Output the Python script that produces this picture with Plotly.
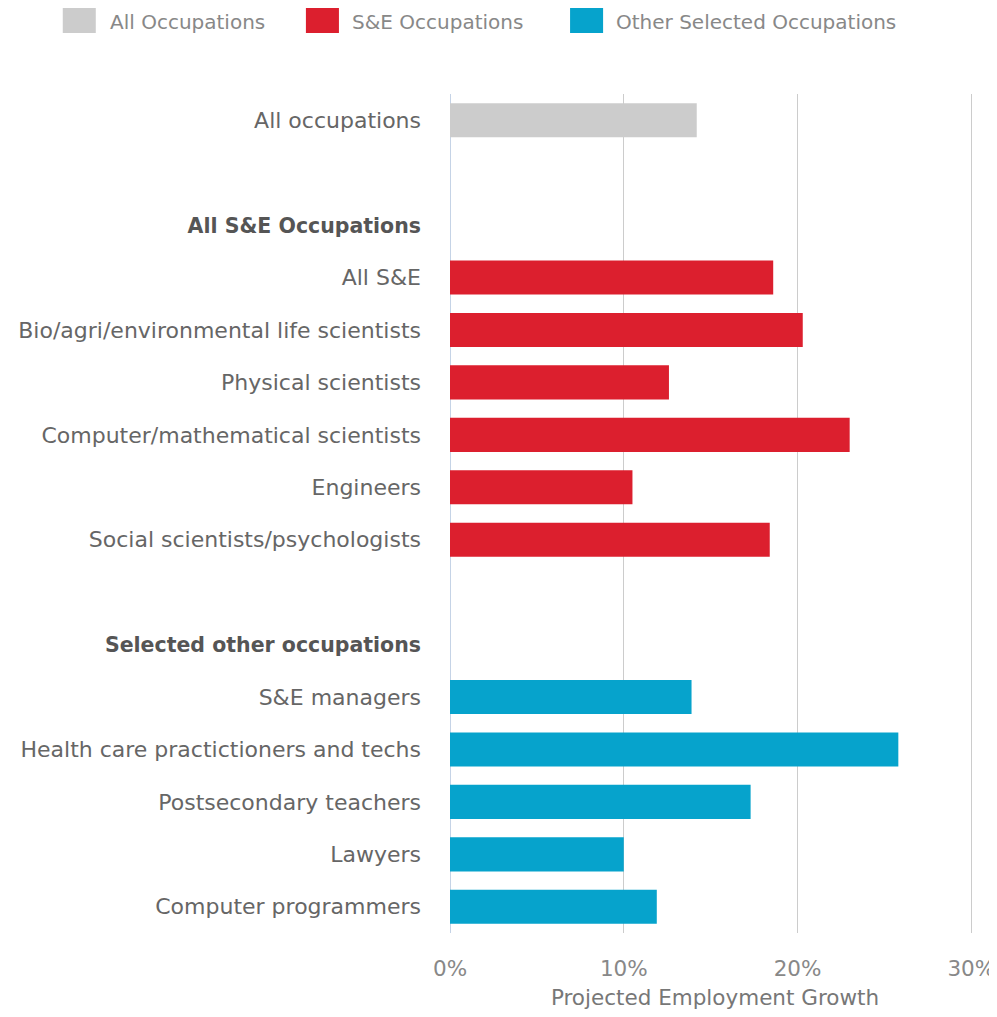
import plotly.graph_objects as go

# Rows top to bottom (blank strings are spacer rows, bold strings are group headers)
rows = [
    "All occupations",
    " ",
    "All S&E Occupations",
    "All S&E",
    "Bio/agri/environmental life scientists",
    "Physical scientists",
    "Computer/mathematical scientists",
    "Engineers",
    "Social scientists/psychologists",
    "  ",
    "Selected other occupations",
    "S&E managers",
    "Health care practictioners and techs",
    "Postsecondary teachers",
    "Lawyers",
    "Computer programmers",
]
headers = ["All S&E Occupations", "Selected other occupations"]

all_cats = ["All occupations"]
all_vals = [14.2]

se_cats = ["All S&E", "Bio/agri/environmental life scientists", "Physical scientists",
           "Computer/mathematical scientists", "Engineers", "Social scientists/psychologists"]
se_vals = [18.6, 20.3, 12.6, 23.0, 10.5, 18.4]

oth_cats = ["S&E managers", "Health care practictioners and techs", "Postsecondary teachers",
            "Lawyers", "Computer programmers"]
oth_vals = [13.9, 25.8, 17.3, 10.0, 11.9]

x_ticks = [0, 10, 20, 30]
x_ticklabels = ["0%", "10%", "20%", "30%"]

legend_names = ["All Occupations", "S&E Occupations", "Other Selected Occupations"]
colors = ["#cccccc", "#dc1f2e", "#06a3cc"]

fig = go.Figure()
for cats, vals, c, n in [(all_cats, all_vals, colors[0], legend_names[0]),
                         (se_cats, se_vals, colors[1], legend_names[1]),
                         (oth_cats, oth_vals, colors[2], legend_names[2])]:
    fig.add_trace(go.Bar(x=vals, y=cats, orientation="h", name=n,
                         marker=dict(color=c, line=dict(width=0)), width=0.65,
                         showlegend=False))

FONT = "DejaVu Sans, sans-serif"
OFF = 8  # page body margin
XMAX = 30.5
px_per_unit = (971 - 450) / 30.0
L, T, B = 450 - OFF, 94 - OFF, 1017 - 933.5 + OFF
R = 997 - L - px_per_unit * XMAX
PW, PH = 997 - L - R, 1017 - T - B

tick_text = [
    f"<span style='font-weight:bold;font-size:20.5px;color:#555555'>{r}</span>" if r in headers else r
    for r in rows
]

fig.update_layout(
    width=997, height=1017,
    margin=dict(l=L, r=R, t=T, b=B),
    plot_bgcolor="white", paper_bgcolor="white",
    barmode="overlay",
    font=dict(family=FONT, color="#666666", size=18),
    xaxis=dict(range=[0, XMAX], tickvals=x_ticks, ticktext=x_ticklabels,
               automargin=False,
               showgrid=True, gridcolor="#cccccc", gridwidth=1,
               zeroline=True, zerolinecolor="#c5d3e6", zerolinewidth=1,
               showline=False, ticks="", ticklabelstandoff=20,
               tickfont=dict(size=21.5, color="#888888"),
               title=dict(text="Projected Employment Growth", standoff=10,
                          font=dict(size=21.5, color="#777777"))),
    yaxis=dict(type="category", categoryorder="array", categoryarray=rows,
               tickvals=rows, ticktext=tick_text, autorange="reversed",
               automargin=False,
               showgrid=False, zeroline=False,
               showline=False, ticks="", ticklabelstandoff=28,
               tickfont=dict(size=22, color="#666666"),
               range=[15.5, -0.5]),
)

# Manual legend at top (reference pixel positions)
leg = [(63, 108), (306, 350), (570, 614)]
def px_x(p):
    return (p - OFF - L) / PW
def px_y(p):
    return (1017 - B - (p - OFF)) / PH
for (sx, tx), c, n in zip(leg, colors, legend_names):
    fig.add_shape(type="rect", xref="paper", yref="paper",
                  x0=px_x(sx), x1=px_x(sx + 33), y0=px_y(33), y1=px_y(8),
                  fillcolor=c, line=dict(width=0))
    fig.add_annotation(xref="paper", yref="paper", x=px_x(tx), y=px_y(22),
                       text=n, showarrow=False, xanchor="left", yanchor="middle",
                       xshift=0, font=dict(size=20, color="#888888", family=FONT))

fig.write_html("out.html")
